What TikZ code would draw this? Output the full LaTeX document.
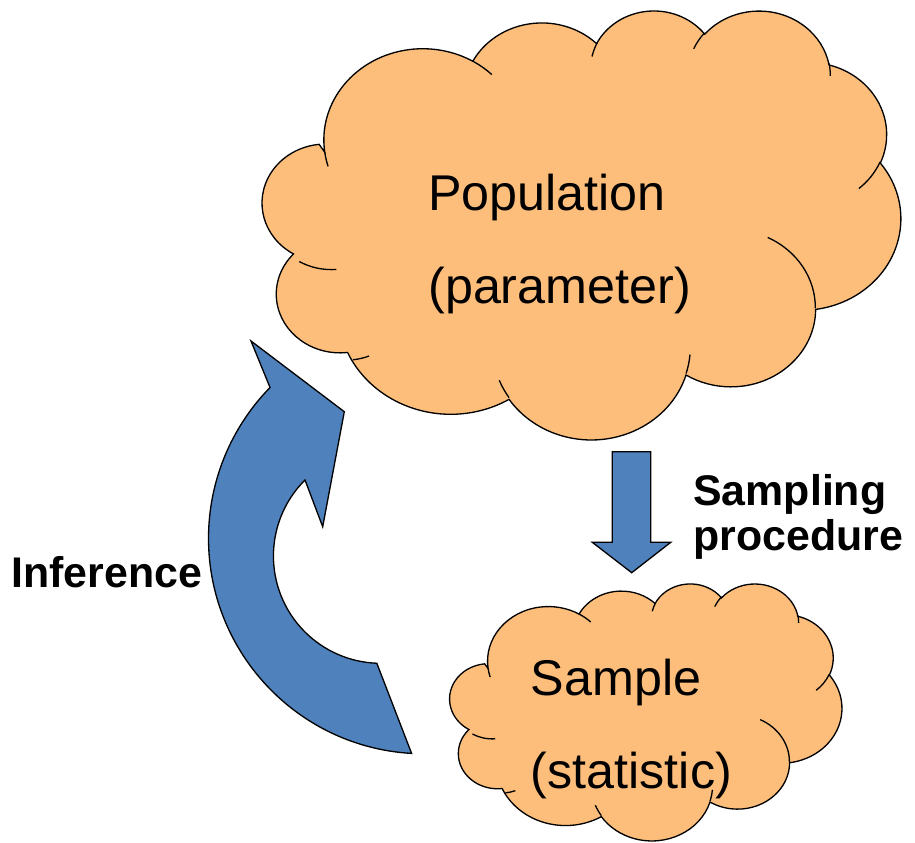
\documentclass[tikz,border=0pt]{standalone}
\usepackage{fontspec}
\setmainfont{Liberation Sans}
\usepackage{tikz}

\definecolor{cloudfill}{RGB}{253,190,124}
\definecolor{arrowblue}{RGB}{79,129,189}

% ellipse angle -> parameter angle
\pgfmathdeclarefunction{vpar}{3}{\pgfmathparse{atan2(#1*sin(#3),#2*cos(#3))}}

% one arc of the cloud: x radius, y radius, start, sweep
\newcommand{\ooarc}[4]{%
  \pgfextra{%
    \pgfmathparse{vpar(#1,#2,#3)}\xdef\arcst{\pgfmathresult}%
    \pgfmathparse{mod(vpar(#1,#2,#3+#4)-\arcst+720,360)}\xdef\arcdel{\pgfmathresult}%
  }
  arc[x radius=#1, y radius=#2, start angle=\arcst, delta angle=\arcdel]}

% cloud in the box x, y, width, height
\newcommand{\pptcloud}[4]{%
  \begin{scope}[shift={(#1,#2)}, xscale=#3/43.2, yscale=#4/43.2]
    \draw[cloudshape] (3.900,14.370)
      \ooarc{6.753}{9.190}{-190.4875}{123.7805}
      \ooarc{5.333}{7.267}{-144.1024}{89.9452}
      \ooarc{4.365}{5.945}{-145.8079}{99.7230}
      \ooarc{4.857}{6.595}{-130.9861}{117.2417}
      \ooarc{5.333}{7.273}{-78.7089}{109.0269}
      \ooarc{6.775}{9.220}{-46.2673}{130.2690}
      \ooarc{5.785}{7.867}{0.6250}{114.0333}
      \ooarc{6.752}{9.215}{22.4516}{115.1726}
      \ooarc{7.720}{10.543}{66.2426}{82.2828}
      \ooarc{4.360}{5.918}{-274.9421}{146.7356}
      \ooarc{4.345}{5.945}{-246.8285}{152.5189} -- cycle;
    \draw[cloudcrease]
      (4.693,26.177) \ooarc{4.345}{5.945}{86.7420}{26.4295}
      (6.928,34.899) \ooarc{4.360}{5.918}{73.6105}{11.4475}
      (16.478,39.090) \ooarc{6.752}{9.215}{137.6242}{14.0811}
      (28.827,34.751) \ooarc{6.752}{9.215}{6.4533}{15.9984}
      (34.129,22.954) \ooarc{5.785}{7.867}{-70.2924}{70.9174}
      (41.798,15.354) \ooarc{5.333}{7.273}{30.3180}{27.7515}
      (38.324,5.426) \ooarc{4.857}{6.595}{-13.7443}{14.8589}
      (29.078,3.952) \ooarc{4.857}{6.595}{-149.1815}{18.1954}
      (22.141,4.720) \ooarc{4.365}{5.945}{-163.4943}{17.6864}
      (14.000,5.192) \ooarc{6.753}{9.190}{-66.7070}{12.3194}
      (4.127,15.789) \ooarc{6.753}{9.190}{157.6544}{11.8582};
  \end{scope}}

\begin{document}
\begin{tikzpicture}[x=0.02cm, y=-0.02cm,
  cloudshape/.style={draw=black, fill=cloudfill, line width=0.75pt},
  cloudcrease/.style={draw=black, line width=0.75pt},
  blockarrow/.style={draw=black, fill=arrowblue, line width=0.75pt, line join=miter},
  cloudtext/.style={font=\fontsize{28.6}{52.4}\selectfont, align=left, inner sep=0pt},
  labeltext/.style={font=\fontsize{24.4}{25.5}\selectfont\bfseries, align=left, inner sep=0pt}
]
\useasboundingbox (0,0) rectangle (915,842);

% The clouds
\pptcloud{267.6}{9.6}{633}{428.8}
\pptcloud{453}{583.1}{388.8}{256.9}

% The sampling arrow
\draw[blockarrow] (612.3,451.7) -- (650.7,451.7) -- (650.7,542.3) -- (670.7,542.3)
  -- (631.7,572.7) -- (592.3,542.3) -- (612.3,542.3) -- cycle;

% The inference arrow
\coordinate (tail) at (411.6,753.4);
\coordinate (tip) at (251,341);
\coordinate (barb) at (344.3,411.7);
\coordinate (notch) at (322.7,526.7);
\draw[blockarrow] (tail) arc[start angle=93.3, end angle=224.4, radius=215.5]
  -- (tip) -- (barb) -- (notch) -- (305,480)
  arc[start angle=225.1, end angle=92.1, radius=107.3] -- cycle;

% The labels (base = last line)
\node[cloudtext, anchor=base west] (population) at (428,303) {Population\\(parameter)};
\node[cloudtext, anchor=base west] (sample) at (530.5,788) {Sample\\(statistic)};
\node[labeltext, anchor=base west] (sampling) at (693,550) {Sampling\\procedure};
\node[labeltext, anchor=base west] (inference) at (11,587) {Inference};
\end{tikzpicture}
\end{document}
